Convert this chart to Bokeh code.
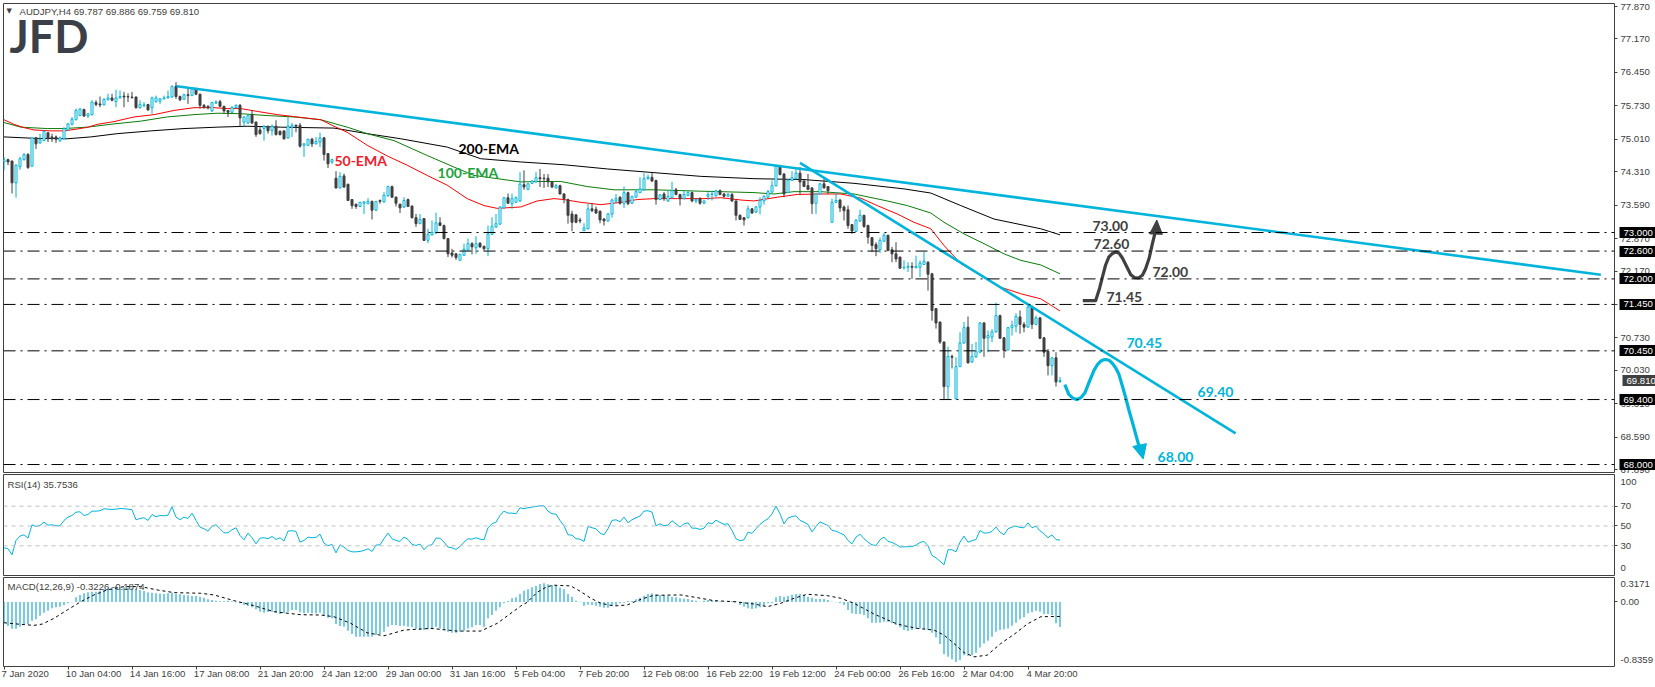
from bokeh.plotting import figure
from bokeh.layouts import column
from bokeh.models import (ColumnDataSource, Label, Span, FixedTicker, PrintfTickFormatter, LinearAxis, Range1d)
from bokeh.core.properties import value
from bokeh.embed import file_html
from bokeh.resources import INLINE

opens = [74.52,74.57,74.54,74.07,74.42,74.57,74.68,74.43,75.04,74.93,74.98,75.15,75.06,75.06,74.98,75.02,75.21,75.33,75.43,75.52,
75.65,75.51,75.54,75.80,75.77,75.75,75.86,75.90,75.82,75.90,75.94,75.93,75.92,75.92,75.69,75.74,75.76,75.69,75.82,75.83,
75.88,75.90,75.92,76.15,75.93,75.87,75.97,75.95,76.10,75.98,75.74,75.72,75.62,75.79,75.82,75.72,75.63,75.59,75.69,75.74,
75.38,75.36,75.54,75.38,75.21,75.24,75.27,75.20,75.29,75.18,75.19,75.04,75.27,75.31,75.31,74.88,74.88,75.01,74.91,74.95,
75.04,74.70,74.52,74.17,73.96,74.22,74.04,73.71,73.61,73.56,73.63,73.62,73.67,73.48,73.69,73.66,73.79,73.99,73.76,73.61,
73.55,73.71,73.57,73.32,73.19,73.30,72.83,72.95,72.99,73.21,73.15,72.87,72.56,72.54,72.40,72.51,72.62,72.76,72.67,72.77,
72.70,72.65,72.96,73.12,73.18,73.53,73.75,73.62,73.65,73.68,74.03,73.93,74.06,74.09,74.18,74.17,74.17,74.09,73.96,74.01,
73.83,73.71,73.40,73.38,73.27,73.04,73.08,73.51,73.50,73.46,73.29,73.25,73.40,73.68,73.76,73.63,73.86,73.63,73.76,73.86,
73.92,74.16,74.19,74.12,73.71,73.83,73.68,73.75,73.92,73.82,73.73,73.80,73.86,73.68,73.73,73.63,73.78,73.82,73.79,73.90,
73.83,73.78,73.82,73.68,73.37,73.32,73.32,73.51,73.44,73.55,73.68,73.76,73.87,74.01,74.43,74.26,73.86,74.12,74.16,74.28,
74.11,74.01,73.96,73.63,73.83,74.05,73.99,73.22,73.65,73.70,73.55,73.49,73.17,73.02,73.25,73.37,73.15,72.89,72.74,72.63,
72.81,72.94,72.63,72.54,72.47,72.24,72.25,72.27,72.24,72.25,72.31,72.36,72.11,71.36,71.07,70.64,69.68,70.33,69.42,70.11,
70.62,70.96,70.21,70.32,70.42,71.05,70.73,70.75,70.86,71.21,70.73,70.47,70.95,70.98,71.18,71.02,70.96,71.39,71.02,71.16,
70.73,70.44,70.13,70.30,69.787]
highs = [74.63,74.59,74.55,74.47,74.63,74.71,74.71,75.06,75.06,75.13,75.20,75.16,75.13,75.09,75.07,75.27,75.36,75.49,75.67,75.68,
75.67,75.57,75.85,75.85,75.93,75.89,75.99,75.99,76.08,76.06,76.03,76.00,76.03,75.93,75.85,75.81,75.77,75.93,75.95,75.90,
75.95,76.06,76.17,76.24,75.95,75.99,76.10,76.12,76.12,75.99,75.77,75.74,75.82,75.85,75.86,75.73,75.64,75.72,75.76,75.77,
75.50,75.54,75.64,75.39,75.27,75.31,75.31,75.33,75.42,75.20,75.20,75.49,75.36,75.33,75.36,74.93,75.02,75.04,75.06,75.15,
75.06,74.71,74.59,74.32,74.30,74.27,74.05,73.72,73.62,73.66,73.67,73.74,73.69,73.68,73.71,73.87,74.01,74.01,73.78,73.62,
73.76,73.73,73.58,73.40,73.40,73.31,73.08,73.26,73.43,73.33,73.17,72.88,72.65,72.56,72.54,72.76,72.87,72.79,72.92,72.79,
72.72,73.15,73.33,73.40,73.56,73.76,73.84,73.84,73.78,74.30,74.34,74.06,74.12,74.30,74.37,74.26,74.26,74.10,74.05,74.03,
73.85,73.73,73.47,73.40,73.32,73.20,73.63,73.63,73.56,73.47,73.31,73.42,73.73,73.83,73.78,73.99,73.88,73.79,73.94,74.19,
74.28,74.25,74.28,74.14,73.83,73.87,73.90,74.09,73.96,73.83,73.90,73.90,73.88,73.73,73.76,73.69,73.87,73.90,73.92,73.93,
73.85,73.85,73.85,73.69,73.39,73.33,73.58,73.53,73.57,73.76,73.80,73.92,74.12,74.46,74.46,74.28,74.15,74.32,74.37,74.41,
74.12,74.26,73.98,73.85,74.06,74.16,74.00,73.73,73.87,73.72,73.58,73.58,73.18,73.29,73.49,73.38,73.17,72.90,72.79,72.89,
72.99,72.95,72.69,72.79,72.48,72.40,72.36,72.36,72.50,72.40,72.58,72.38,72.13,71.37,71.08,70.65,70.54,70.37,70.31,70.85,
71.07,71.19,70.60,70.64,71.07,71.07,70.89,70.92,71.49,71.23,70.75,70.96,71.10,71.26,71.32,71.07,71.43,71.43,71.21,71.18,
70.75,70.49,70.32,70.42,69.886]
lows = [74.34,74.45,73.84,73.75,74.35,74.55,74.37,74.42,74.80,74.91,74.97,74.95,74.95,74.93,74.95,75.00,75.20,75.31,75.42,75.51,
75.49,75.47,75.52,75.72,75.70,75.74,75.85,75.83,75.70,75.89,75.70,75.81,75.88,75.67,75.67,75.70,75.63,75.56,75.80,75.77,
75.87,75.89,75.90,75.88,75.83,75.86,75.77,75.94,75.96,75.67,75.67,75.65,75.60,75.77,75.70,75.57,75.49,75.58,75.67,75.27,
75.29,75.34,75.34,75.06,75.11,74.98,75.13,75.09,75.09,75.09,75.00,75.02,75.06,75.16,74.83,74.63,74.86,74.84,74.90,74.84,
74.55,74.39,74.48,73.95,73.95,73.96,73.68,73.51,73.51,73.55,73.40,73.61,73.28,73.46,73.62,73.64,73.77,73.75,73.56,73.42,
73.53,73.55,73.30,73.12,73.18,72.82,72.77,72.94,72.97,73.14,72.85,72.47,72.46,72.41,72.39,72.49,72.61,72.53,72.54,72.67,
72.61,72.49,72.95,73.10,73.16,73.52,73.62,73.51,73.64,73.66,73.92,73.92,74.05,74.07,73.98,73.96,73.98,73.96,73.95,73.82,
73.63,73.19,73.03,73.20,73.20,73.03,73.07,73.44,73.40,73.20,73.15,73.23,73.32,73.63,73.60,73.53,73.59,73.62,73.75,73.85,
73.90,74.14,74.09,73.60,73.70,73.68,73.66,73.73,73.80,73.58,73.71,73.78,73.65,73.63,73.60,73.62,73.70,73.69,73.78,73.80,
73.75,73.76,73.66,73.26,73.27,73.15,73.30,73.40,73.42,73.39,73.60,73.75,73.86,73.99,74.23,73.76,73.85,74.11,74.14,73.82,
73.98,73.91,73.40,73.40,73.82,73.95,73.83,73.21,73.63,73.44,73.26,73.08,72.97,73.01,73.23,73.10,72.76,72.58,72.49,72.56,
72.80,72.60,72.36,72.36,72.22,72.20,72.15,72.00,72.23,72.04,72.30,71.75,71.10,70.93,70.60,69.40,69.40,70.07,69.40,70.10,
70.60,70.18,70.19,70.30,70.41,70.32,70.42,70.64,70.84,70.71,70.30,70.46,70.78,70.85,70.82,70.85,70.95,70.92,71.00,70.71,
70.32,69.92,69.92,69.68,69.759]
closes = [74.57,74.52,74.07,74.45,74.59,74.68,74.40,75.04,74.91,75.00,75.18,75.02,75.02,75.01,75.04,75.24,75.34,75.44,75.63,75.66,
75.51,75.56,75.81,75.76,75.75,75.87,75.90,75.85,75.90,75.93,75.92,75.92,75.91,75.69,75.76,75.75,75.64,75.90,75.90,75.88,
75.90,75.93,76.15,75.93,75.86,75.97,75.95,76.10,75.98,75.74,75.70,75.69,75.80,75.81,75.72,75.62,75.59,75.70,75.74,75.47,
75.49,75.52,75.36,75.11,75.13,75.29,75.19,75.29,75.11,75.11,75.02,75.29,75.31,75.29,74.86,74.91,75.01,74.91,74.96,75.04,
74.68,74.48,74.57,73.96,74.21,73.98,73.69,73.58,73.56,73.65,73.66,73.67,73.48,73.67,73.67,73.80,73.99,73.76,73.63,73.53,
73.69,73.56,73.32,73.19,73.28,72.83,72.96,73.00,73.21,73.15,72.87,72.54,72.51,72.46,72.53,72.64,72.76,72.69,72.76,72.69,
72.65,72.97,73.13,73.19,73.55,73.75,73.63,73.73,73.75,74.04,73.98,74.05,74.11,74.18,74.16,74.16,74.09,73.98,74.01,73.83,
73.73,73.37,73.22,73.22,73.25,73.10,73.51,73.47,73.42,73.27,73.25,73.40,73.70,73.73,73.63,73.86,73.62,73.78,73.88,73.94,
74.16,74.19,74.11,73.71,73.81,73.73,73.78,73.90,73.82,73.73,73.82,73.86,73.68,73.71,73.63,73.68,73.82,73.83,73.90,73.82,
73.78,73.82,73.68,73.37,73.28,73.27,73.51,73.42,73.55,73.69,73.78,73.88,74.01,74.43,74.25,73.83,74.13,74.18,74.28,74.09,
73.99,73.93,73.62,73.83,74.05,73.96,73.90,73.65,73.69,73.53,73.47,73.15,73.03,73.26,73.37,73.13,72.90,72.72,72.65,72.83,
72.94,72.61,72.54,72.43,72.23,72.25,72.27,72.25,72.27,72.34,72.38,72.10,71.32,71.05,70.64,69.68,70.33,70.31,70.11,70.62,
70.95,70.19,70.33,70.44,71.05,70.72,70.78,70.86,71.21,70.72,70.46,70.95,71.00,71.19,71.02,70.96,71.39,71.02,71.16,70.72,
70.42,70.13,70.30,69.78,69.810]

ema50_i = [0,2.5,5,7.5,11.7,15,18.3,21,23.3,27.5,32.5,37.5,42.5,47.5,52.5,55.8,59.2,63.3,68.3,73.3,79.2,82.5,85.8,90.8,95.8,100.8,105.8,110.8,115.8,120,123.3,129.2,133.3,137.5,140,144.2,149.2,154.2,158.3,162.5,168.3,175,179.2,184.2,187.5,193.3,198.3,204.2,209.2,214.2,218.3,223.3,227.5,231.7,235,239.2,244.2,249.2,254.2,259.2,264]
ema50_v = [75.43,75.33,75.26,75.21,75.19,75.19,75.23,75.27,75.33,75.39,75.49,75.54,75.63,75.69,75.69,75.67,75.67,75.61,75.54,75.49,75.43,75.29,75.16,74.88,74.65,74.45,74.23,74.02,73.73,73.58,73.52,73.55,73.68,73.73,73.71,73.65,73.60,73.65,73.71,73.73,73.73,73.73,73.75,73.70,73.68,73.76,73.82,73.83,73.83,73.74,73.58,73.40,73.22,73.08,72.72,72.33,72.07,71.82,71.68,71.57,71.31]
ema100_i = [0,4.2,10.8,15,20.8,27.5,34.2,40.8,47.5,53.3,59.2,65.8,72.5,79.2,85.8,90.8,97.5,105.8,112.5,117.5,129.2,134.2,139.2,145.8,152.5,162.5,174.2,179.2,187.5,192.5,197.5,204.2,212.5,220.8,225.8,231.7,235,240,245,250,254.2,259.2,264]
ema100_v = [75.37,75.27,75.24,75.24,75.27,75.34,75.40,75.49,75.54,75.57,75.56,75.52,75.49,75.43,75.27,75.13,74.98,74.66,74.41,74.23,74.09,74.10,74.10,73.99,73.92,73.92,73.89,73.88,73.86,73.83,73.88,73.88,73.83,73.68,73.58,73.42,73.22,72.97,72.76,72.54,72.40,72.30,72.11]
ema200_i = [0,7.5,15.8,21.7,28.3,36.7,45,53.3,60.8,69.2,82.5,90.8,99.2,110.8,119.2,129.2,140,150.8,162.5,174.2,187.5,200,212.5,225,231.7,239.2,247.5,259.2,264]
ema200_v = [75.06,75.03,75.02,75.06,75.13,75.19,75.24,75.27,75.29,75.27,75.25,75.13,75.02,74.84,74.59,74.52,74.46,74.37,74.29,74.21,74.16,74.14,74.06,73.94,73.85,73.58,73.29,73.08,72.95]

rsi_v = [28.0,27.0,20.9,35.4,39.8,41.1,37.7,51.2,49.5,50.5,53.9,50.9,51.2,50.2,50.2,55.6,59.0,60.6,64.0,64.3,60.6,61.6,65.0,65.0,65.4,67.4,67.0,66.7,67.0,67.7,67.4,67.0,66.4,56.3,57.6,58.3,55.6,61.6,59.3,60.6,
60.3,61.0,69.4,59.0,56.3,59.0,57.6,63.0,55.6,48.9,47.2,44.8,49.9,51.2,47.2,43.1,43.1,46.2,48.2,40.4,36.1,42.8,38.1,32.0,37.7,38.1,37.1,39.4,36.4,38.1,
34.7,44.8,45.2,44.5,33.7,35.4,38.8,38.1,38.4,41.8,32.7,30.0,31.4,22.9,31.0,28.7,25.3,23.9,23.9,24.3,25.3,27.0,24.3,30.7,31.0,37.1,42.8,37.1,35.4,34.4,
38.8,36.4,31.4,30.3,31.7,26.0,30.3,31.0,37.7,37.7,33.7,28.7,28.0,26.3,29.3,33.7,37.1,36.7,38.1,36.7,36.1,48.2,52.2,53.9,60.6,65.0,63.0,63.0,62.3,68.4,
67.4,68.4,69.1,69.7,70.4,70.4,65.0,62.3,62.0,55.6,50.2,41.1,40.8,37.1,36.7,34.4,49.5,48.2,47.2,42.8,41.1,47.2,55.6,56.3,54.2,59.0,53.2,56.3,58.3,60.0,
65.0,65.4,64.0,50.2,52.2,50.2,50.9,55.3,52.2,48.9,52.2,53.2,47.8,47.8,46.5,47.8,53.2,52.2,55.9,53.6,51.6,52.2,45.5,37.1,35.1,36.1,43.8,42.5,47.2,51.6,
54.9,57.3,62.3,70.1,62.3,52.2,58.0,59.6,60.3,55.6,53.9,51.6,44.1,49.5,54.2,52.2,50.5,45.5,44.8,42.8,41.1,35.4,32.0,38.8,41.8,37.1,33.7,31.0,30.3,36.1,
38.8,34.4,33.4,31.4,28.7,29.0,29.0,29.3,30.7,33.4,34.4,30.0,20.2,17.9,14.5,10.8,26.0,26.0,23.9,33.7,39.8,33.7,35.1,36.4,45.5,42.8,43.1,44.5,48.9,43.8,
41.1,47.2,48.9,49.9,48.5,48.2,53.2,48.2,49.9,45.1,42.1,38.1,41.1,36.2,35.75]

macd_v = [-.269,-.312,-.347,-.347,-.321,-.286,-.286,-.243,-.225,-.178,-.139,-.113,-.082,-.069,-.061,-.039,-.017,-.004,.061,.091,.113,.126,.134,.134,.147,.165,.178,.186,.199,.186,
.191,.182,.178,.169,.156,.143,.126,.121,.113,.108,.104,.113,.121,.104,.100,.091,.087,.078,.078,.069,.056,.035,.026,.017,.009,.009,.017,.009,-.004,-.017,
-.039,-.052,-.069,-.095,-.126,-.139,-.130,-.126,-.139,-.156,-.147,-.126,-.104,-.104,-.134,-.147,-.139,-.147,-.147,-.139,-.169,-.204,-.212,-.286,-.312,-.321,-.373,-.416,-.451,-.451,
-.451,-.451,-.451,-.429,-.416,-.386,-.321,-.299,-.299,-.312,-.308,-.321,-.329,-.351,-.364,-.364,-.355,-.342,-.321,-.342,-.364,-.386,-.399,-.399,-.386,-.373,-.342,-.329,-.299,-.299,
-.321,-.212,-.169,-.113,-.069,-.017,.013,.048,.061,.104,.147,.165,.191,.208,.234,.243,.230,.221,.212,.186,.165,.104,.069,.017,.004,-.048,-.035,-.039,-.048,-.061,
-.074,-.074,-.048,-.039,-.017,-.009,.013,.013,.035,.056,.082,.104,.113,.100,.091,.091,.082,.069,.061,.048,.043,.039,.026,.017,.004,.017,.026,.026,.017,.009,
.004,.009,.013,.009,-.039,-.061,-.082,-.091,-.082,-.069,-.048,-.017,-.017,.061,.078,.069,.078,.095,.104,.104,.091,.069,.056,.039,.039,.039,.026,.004,-.004,-.017,
-.039,-.104,-.147,-.156,-.156,-.169,-.212,-.269,-.269,-.269,-.256,-.256,-.277,-.299,-.329,-.364,-.377,-.364,-.351,-.342,-.351,-.364,-.399,-.460,-.546,-.676,-.711,-.741,-.776,-.754,
-.689,-.698,-.689,-.659,-.590,-.538,-.503,-.451,-.386,-.364,-.355,-.342,-.308,-.269,-.225,-.199,-.147,-.134,-.113,-.126,-.156,-.156,-.169,-.277,-.3226]
signal_i = [0,4.2,7.5,9.6,12.5,15.8,19.2,22.5,25.8,30,34.2,38.3,42.5,49.2,52.5,57.5,62.5,67.5,74.2,79.2,82.5,86.7,90.8,95,100,106.7,113.3,119.2,123.3,129.2,130.8,133.3,135.8,137.5,141.7,144.2,146.7,149.2,152.5,155.8,158.3,160.8,162.5,169.2,174.2,177.5,182.5,187.5,190.8,194.2,197.5,200.8,205.8,209.2,212.5,217.5,222.5,225,228.3,232.5,235,237.5,240,242.5,245.8,249.2,252.5,255.8,259.2,264]
signal_v = [-.269,-.290,-.303,-.286,-.212,-.104,.004,.091,.156,.199,.199,.156,.121,.113,.091,.017,-.048,-.126,-.165,-.169,-.191,-.277,-.399,-.438,-.364,-.342,-.377,-.377,-.277,-.052,-.004,.126,.199,.217,.208,.134,.048,-.017,-.052,-.039,.017,.061,.087,.091,.048,.017,.004,-.026,-.061,-.017,.048,.100,.082,.048,-.017,-.156,-.269,-.308,-.342,-.364,-.429,-.538,-.655,-.711,-.689,-.538,-.420,-.286,-.191,-.1874]

levels = [73.00,72.60,72.00,71.45,70.45,69.40,68.00]
last_price = 69.81
price_ticks = [77.87,77.17,76.45,75.73,75.01,74.31,73.59,72.87,72.17,71.45,70.73,70.03,69.31,68.59,67.89]
rsi_levels = [70,50,30]
rsi_label_at = [94.2,70,50,30,7.1]
rsi_labels = ["100","70","50","30","0"]
macd_label_at = [0.238,0,-0.746]
macd_labels = ["0.3171","0.00","-0.8359"]
date_ticks = [0,16,32,48,64,80,96,112,128,144,160,176,192,208,224,240,256]
date_centers = [5.3,22.4,38.4,54.4,70.4,86.4,102.4,118.4,133.9,149.9,166.6,182.6,198.4,214.6,230.6,246,262]
date_labels = ["7 Jan 2020","10 Jan 04:00","14 Jan 16:00","17 Jan 08:00","21 Jan 20:00","24 Jan 12:00","29 Jan 00:00","31 Jan 16:00","5 Feb 04:00","7 Feb 20:00","12 Feb 08:00","16 Feb 22:00","19 Feb 12:00","24 Feb 00:00","26 Feb 16:00","2 Mar 04:00","4 Mar 20:00"]

trend1_i = [43.2, 399.2]
trend1_v = [76.15, 72.09]
trend2_i = [199, 307.9]
trend2_v = [74.50, 68.67]
gray_path_i = [269.7,272.9,273.9,274.6,275.4,276.2,277.1,278,278.8,279.6,280.6,281.7,282.6,283.6,284.6,285.4,286.3,287.1,287.9]
gray_path_v = [71.53,71.53,71.80,72.04,72.30,72.47,72.55,72.58,72.55,72.45,72.28,72.09,72.03,72.02,72.08,72.22,72.45,72.76,73.04]
gray_head_i = [288.2,286.4,289.6]
gray_head_v = [73.27,72.97,72.96]
blue_path_i = [265.2,266.2,267.2,268.2,269.2,270.2,271.3,272.5,273.4,274.2,275,275.7,276.4,277.2,278,278.7,279.5,280.4,281.2,282.1,282.9,283.7]
blue_path_v = [69.72,69.51,69.43,69.40,69.44,69.54,69.78,70.03,70.16,70.23,70.26,70.26,70.24,70.17,70.07,69.95,69.72,69.45,69.18,68.91,68.66,68.41]
blue_head_i = [284.8,282.2,285.6]
blue_head_v = [68.12,68.39,68.45]

note_text = ["73.00","72.60","72.00","71.45"]
note_i = [272.1,272.4,287.1,275.6]
note_v = [73.15,72.76,72.14,71.60]
blue_text = ["70.45","69.40","68.00"]
blue_i = [280.6,298.4,288.4]
blue_v = [70.61,69.56,68.17]
ema_text = ["200-EMA","50-EMA","100-EMA"]
ema_i = [113.6,82.6,108.4]
ema_y = [74.81,74.55,74.29]
ema_col = ["#000000","#f01c2c","#22a23c"]

BLUE = "#00b4dc"
DARK = "#404040"
FONT = "Liberation Sans"
FS = "9.6px"
X0, X1 = -0.125, 402.625


def make(frame_h, top, bottom, yr):
    p = figure(frame_width=1611, frame_height=frame_h, min_border_left=3, min_border_right=41,
               min_border_top=top, min_border_bottom=bottom, x_range=Range1d(X0, X1), y_range=Range1d(*yr),
               output_backend="svg", toolbar_location=None, x_axis_location=None, y_axis_location="right",
               background_fill_color="white", border_fill_color="white")
    p.grid.visible = False
    p.outline_line_color = DARK
    p.outline_line_width = 1
    ax = p.yaxis[0]
    ax.axis_line_color = None
    ax.major_tick_in = 0
    ax.major_tick_out = 3
    ax.minor_tick_line_color = None
    ax.major_tick_line_color = DARK
    ax.major_label_standoff = 3
    ax.major_label_text_font = FONT
    ax.major_label_text_font_size = FS
    ax.major_label_text_color = DARK
    return p


def note(p, frame_h, ftop, x, py, text, **kw):
    args = dict(x=x - 3, y=frame_h - (py - ftop), x_units="screen", y_units="screen", text=text,
                text_font=FONT, text_font_size=FS, text_color=DARK, text_baseline="middle")
    args.update(kw)
    p.add_layout(Label(**args))


def box_axis(ticks, col):
    ax = LinearAxis(ticker=FixedTicker(ticks=ticks), formatter=PrintfTickFormatter(format="%.3f"))
    ax.axis_line_color = None
    ax.minor_tick_line_color = None
    ax.major_tick_line_color = col
    ax.major_tick_line_width = 11
    ax.major_tick_line_cap = "butt"
    ax.major_tick_in = 33
    ax.major_tick_out = 4
    ax.major_label_standoff = -33
    ax.major_label_text_font = FONT
    ax.major_label_text_font_size = FS
    ax.major_label_text_color = "white"
    return ax


# ---------------- main pane
main = make(469, 3, 2, (67.828, 77.935))
main.yaxis[0].ticker = FixedTicker(ticks=price_ticks)
main.yaxis[0].formatter = PrintfTickFormatter(format="%.3f")
main.add_layout(box_axis(levels, "black"), "right")
main.add_layout(box_axis([last_price], DARK), "right")

for lv in levels:
    main.add_layout(Span(location=lv, dimension="width", line_color="black", line_width=1, line_dash="12 5 2 5"))

idx = list(range(len(opens)))
colors = [BLUE if c >= o else DARK for o, c in zip(opens, closes)]
fills = ["white" if c >= o else DARK for o, c in zip(opens, closes)]
src = ColumnDataSource(dict(x=idx, o=opens, h=highs, l=lows, c=closes, col=colors, fill=fills))

main.line(ema200_i, ema200_v, line_color="black", line_width=1)
main.line(ema100_i, ema100_v, line_color="#0a7d0a", line_width=1)
main.line(ema50_i, ema50_v, line_color="#ff0000", line_width=1)
main.segment(x0="x", y0="h", x1="x", y1="l", line_color="col", line_width=1, source=src)
main.vbar(x="x", width=0.5, top="o", bottom="c", fill_color="fill", line_color="col", line_width=1, source=src)

main.line(trend1_i, trend1_v, line_color=BLUE, line_width=2.6)
main.line(trend2_i, trend2_v, line_color=BLUE, line_width=2.6)
main.line(gray_path_i, gray_path_v, line_color=DARK, line_width=3.2, line_join="round")
main.patch(gray_head_i, gray_head_v, fill_color=DARK, line_color=DARK)
main.line(blue_path_i, blue_path_v, line_color=BLUE, line_width=3.2, line_join="round")
main.patch(blue_head_i, blue_head_v, fill_color=BLUE, line_color=BLUE)

for xs, ys, txt, col in ((note_i, note_v, note_text, DARK), (blue_i, blue_v, blue_text, BLUE), (ema_i, ema_y, ema_text, ema_col)):
    main.text(xs, ys, text=txt, text_color=col, text_font=value("Lato"), text_font_style="bold",
              text_font_size="14px", text_baseline="middle")

note(main, 469, 3, 6, 10.5, "\u25bc", text_font="DejaVu Sans", text_font_size="7px")
note(main, 469, 3, 19, 10.7, "AUDJPY,H4  69.787 69.886 69.759 69.810")
note(main, 469, 3, 9, 35.5, "JFD", text_font="Lato", text_font_style="bold",
     text_font_size="45px", text_color="#3b4048")

# ---------------- RSI pane
rsi = make(101, 0, 2, (0, 102))
rax = rsi.yaxis[0]
rax.ticker = FixedTicker(ticks=rsi_label_at, minor_ticks=rsi_levels)
rax.major_label_overrides = dict(zip(rsi_label_at, rsi_labels))
rax.major_tick_line_color = None
rax.major_tick_out = 0
rax.minor_tick_line_color = DARK
rax.minor_tick_in = 0
rax.minor_tick_out = 3
for lv in rsi_levels:
    rsi.add_layout(Span(location=lv, dimension="width", line_color="#c0c0c0", line_width=1, line_dash="4 4"))
rsi.line(idx, rsi_v, line_color=BLUE, line_width=1)
note(rsi, 101, 474, 7, 483.7, "RSI(14) 35.7536")

# ---------------- MACD pane
macd = make(89, 0, 21, (-0.8359, 0.3171))
max_ = macd.yaxis[0]
max_.ticker = FixedTicker(ticks=macd_label_at, minor_ticks=[0])
max_.major_label_overrides = dict(zip(macd_label_at, macd_labels))
max_.major_tick_line_color = None
max_.major_tick_out = 0
max_.minor_tick_line_color = DARK
max_.minor_tick_in = 0
max_.minor_tick_out = 3
macd.segment(idx, [0] * len(idx), idx, macd_v, line_color="#1fa8d2", line_width=1.2)
macd.line(signal_i, signal_v, line_color="black", line_width=1, line_dash="3 3")
note(macd, 89, 577, 7, 586, "MACD(12,26,9) -0.3226 -0.1874")

xax = LinearAxis(ticker=FixedTicker(ticks=date_centers, minor_ticks=date_ticks),
                 major_label_overrides=dict(zip(date_centers, date_labels)))
xax.axis_line_color = None
xax.major_tick_line_color = None
xax.major_tick_in = 0
xax.major_tick_out = 0
xax.minor_tick_line_color = DARK
xax.minor_tick_in = 0
xax.minor_tick_out = 3
xax.major_label_standoff = -2
xax.major_label_text_font = FONT
xax.major_label_text_font_size = FS
xax.major_label_text_color = DARK
macd.add_layout(xax, "below")

page = column(main, rsi, macd, spacing=0, styles={"position": "absolute", "left": "0px", "top": "0px"})
open("out.html", "w").write(file_html(page, INLINE))
